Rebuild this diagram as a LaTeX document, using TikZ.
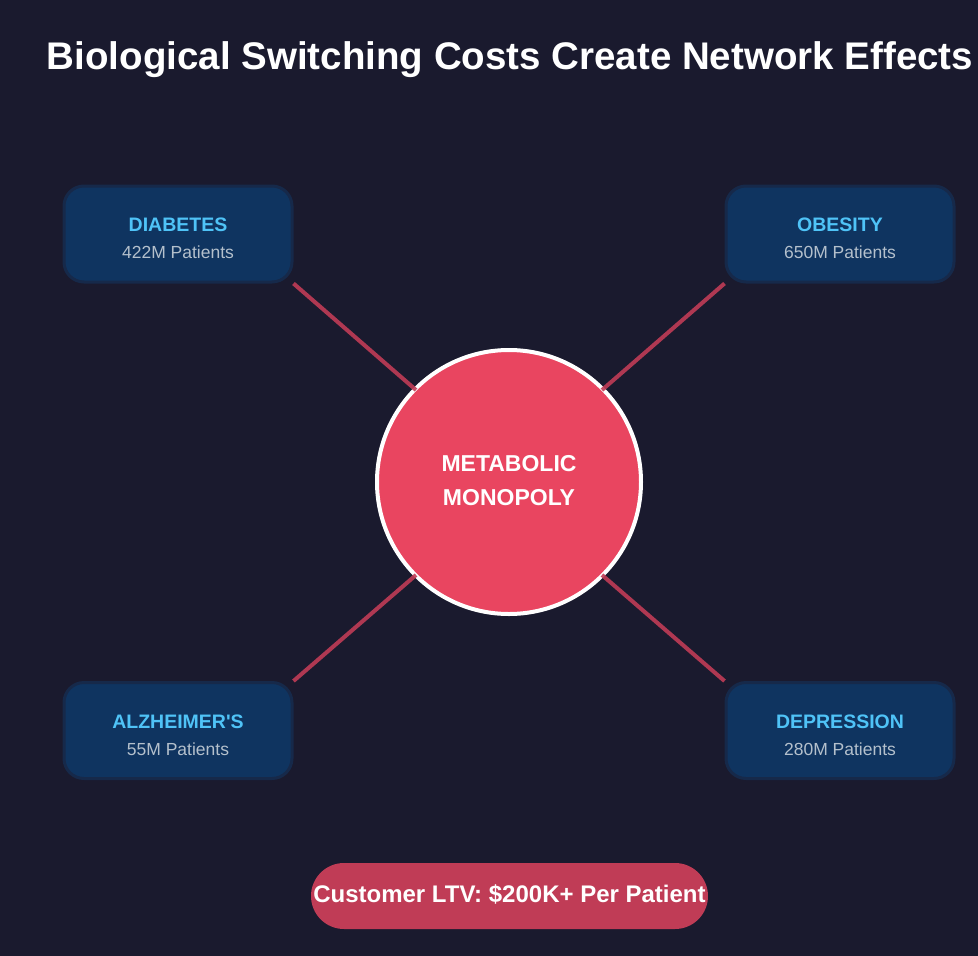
\documentclass[tikz,border=0pt]{standalone}
\usepackage{fontspec}
\setmainfont{Liberation Sans}
\definecolor{bg}{HTML}{1A1A2E}
\definecolor{boxfill}{HTML}{0F3460}
\definecolor{boxline}{HTML}{16294A}
\definecolor{cyanT}{HTML}{4FC3F7}
\definecolor{subT}{HTML}{B4C0CC}
\definecolor{hub}{HTML}{E94560}
\definecolor{link}{HTML}{C03C56}
\tikzset{
  disease/.style={draw=boxline, line width=3pt, fill=boxfill, rounded corners=20pt,
    minimum width=228pt, minimum height=96pt, inner sep=0pt},
  dname/.style={anchor=base, text=cyanT, font=\fontsize{19.5}{22}\selectfont\bfseries, inner sep=0pt},
  dsub/.style={anchor=base, text=subT, font=\fontsize{17.5}{20}\selectfont, inner sep=0pt},
  link/.style={draw=link, line width=4pt},
  hubtext/.style={anchor=base, text=white, font=\fontsize{23}{26}\selectfont\bfseries, inner sep=0pt},
}
\begin{document}
\begin{tikzpicture}[x=1pt,y=-1pt]
\fill[bg] (0,0) rectangle (978,956);
\useasboundingbox (0,0) rectangle (978,956);
% title
\node[anchor=base, text=white, font=\fontsize{38.5}{46}\selectfont\bfseries, inner sep=0pt] (title) at (510,69.3) {Biological Switching Costs Create Network Effects};
% boxes
\node[disease] (dia) at (178,234) {};
\node[disease] (obe) at (840,234) {};
\node[disease] (alz) at (178,730.5) {};
\node[disease] (dep) at (840,730.5) {};
\node[dname] (diaT) at (178,231) {DIABETES};
\node[dsub] (diaS) at (178,258.3) {422M Patients};
\node[dname] (obeT) at (840,231) {OBESITY};
\node[dsub] (obeS) at (840,258.3) {650M Patients};
\node[dname] (alzT) at (178,728) {ALZHEIMER\textquotesingle S};
\node[dsub] (alzS) at (178,755.3) {55M Patients};
\node[dname] (depT) at (840,728) {DEPRESSION};
\node[dsub] (depS) at (840,755.3) {280M Patients};
% hub
\node[circle, fill=hub, draw=white, line width=4pt, minimum size=264pt, inner sep=0pt] (hubc) at (509,482) {};
\node[hubtext] (h1) at (509,471.7) {METABOLIC};
\node[hubtext] (h2) at (509,505) {MONOPOLY};
% link end points on the hub border
\coordinate (eNW) at (416,390);
\coordinate (eNE) at (602,390);
\coordinate (eSW) at (416,575);
\coordinate (eSE) at (602,575);
% links
\draw[link, opacity=0.9] (dia.south east) -- (eNW);
\draw[link, opacity=0.9] (obe.south west) -- (eNE);
\draw[link, opacity=0.9] (alz.north east) -- (eSW);
\draw[link, opacity=0.9] (dep.north west) -- (eSE);
% pill
\node[fill=link, rounded corners=33pt, minimum width=397pt, minimum height=66pt, inner sep=0pt] (pill) at (509.5,896) {};
\node[anchor=base, text=white, font=\fontsize{24}{28}\selectfont\bfseries, inner sep=0pt] (pillT) at (509.5,902.3) {Customer LTV: \$200K+ Per Patient};
\end{tikzpicture}
\end{document}
